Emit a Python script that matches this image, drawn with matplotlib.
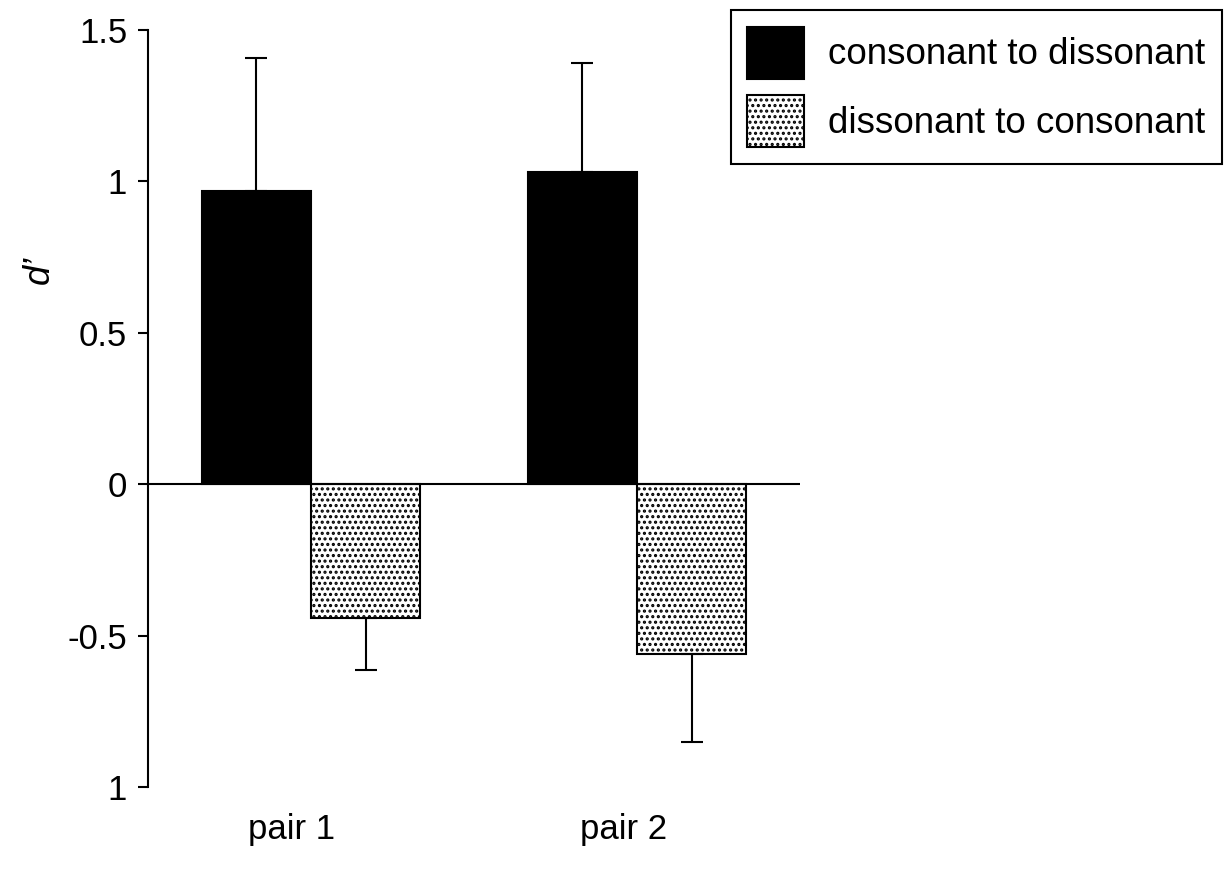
import numpy as np
import matplotlib
matplotlib.use("Agg")
import matplotlib.pyplot as plt

plt.rcParams['font.family'] = ['Liberation Sans', 'DejaVu Sans']
plt.rcParams['hatch.linewidth'] = 1.5

# data
groups = ["pair 1", "pair 2"]
series = ["consonant to dissonant", "dissonant to consonant"]
cons_to_diss = [0.967, 1.03]
cons_to_diss_err = [0.44, 0.36]
diss_to_cons = [-0.443, -0.56]
diss_to_cons_err = [0.17, 0.29]
yticks = [1.5, 1, 0.5, 0, -0.5, -1]
ytick_labels = ["1.5", "1", "0.5", "0", "-0.5", "1"]

fig = plt.figure(figsize=(12.27, 8.73), dpi=100)
ax = fig.add_axes([148 / 1227, 1 - 787 / 873, (800 - 148) / 1227, (787 - 30) / 873])

x = np.arange(len(groups))
w = 0.335
b1 = ax.bar(x - w / 2, cons_to_diss, w, color="black", edgecolor="black",
            linewidth=1.5, label=series[0])
b2 = ax.bar(x + w / 2, diss_to_cons, w, color="white", edgecolor="black",
            hatch="...", linewidth=1.5, label=series[1])

# one-sided error bars
ax.errorbar(x - w / 2, cons_to_diss, yerr=[np.zeros(2), cons_to_diss_err],
            fmt="none", ecolor="black", elinewidth=1.5, capsize=8, capthick=1.5)
ax.errorbar(x + w / 2, diss_to_cons, yerr=[diss_to_cons_err, np.zeros(2)],
            fmt="none", ecolor="black", elinewidth=1.5, capsize=8, capthick=1.5)

ax.axhline(0, color="black", linewidth=1.5)

ax.set_xlim(-0.5, 1.5)
ax.set_ylim(-1, 1.5)
ax.set_yticks(yticks)
ax.set_yticklabels(ytick_labels, fontsize=25)
ax.tick_params(axis="y", direction="out", length=7, width=1.5, pad=8)
ax.set_xticks([])
for s in ["top", "right", "bottom"]:
    ax.spines[s].set_visible(False)
ax.spines["left"].set_linewidth(1.5)

ax.set_ylabel("d\u2019", fontsize=26, style="italic")
ax.yaxis.set_label_coords(-0.14, 0.683)

for xi, name, off in zip(x, groups, [-0.06, -0.04]):
    ax.text(xi + off, -1.14, name, ha="center", va="center", fontsize=25)

leg = fig.legend(handles=[b1, b2], labels=series, loc="upper right",
                 bbox_to_anchor=(1222 / 1227, 1 - 10 / 873), fontsize=26.5,
                 frameon=True, fancybox=False, edgecolor="black", framealpha=1,
                 handlelength=1.55, handleheight=1.8, handletextpad=0.65,
                 borderpad=0.45, labelspacing=0.45, borderaxespad=0)
leg.get_frame().set_linewidth(1.5)

fig.savefig("out.png", dpi=100, facecolor="white")
